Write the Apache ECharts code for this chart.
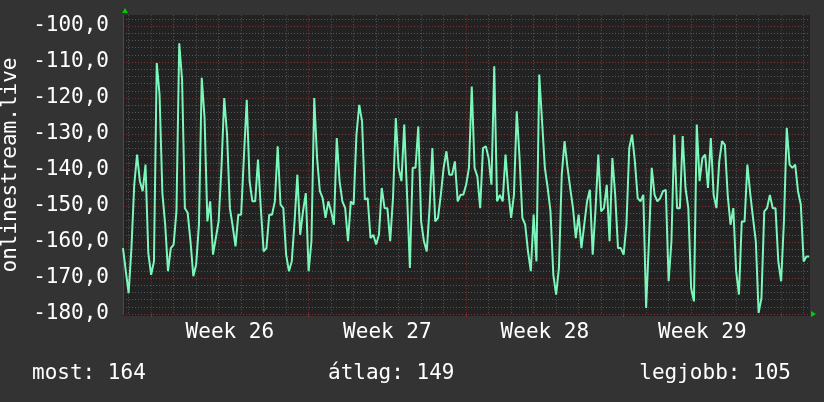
<!DOCTYPE html>
<html>
<head>
<meta charset="utf-8">
<script src="https://cdn.jsdelivr.net/npm/echarts@6/dist/echarts.min.js"></script>
<style>
  html, body { margin: 0; padding: 0; background: #333333; }
  #chart { width: 824px; height: 402px; }
</style>
</head>
<body>
<div id="chart"></div>
<script>
// one sample every 3 hours, first one 30 h before Monday of week 26
const startHour = -30;
const stepHours = 3;
const firstWeek = 26;
const weekLabels = ['Week 26', 'Week 27', 'Week 28', 'Week 29'];

const signal = [
  -161.7, -168.1, -174.2, -161.7, -144.1, -135.7, -143.1, -145.9, -138.5, -163.1,
  -169.1, -165.4, -110.3, -119.1, -146.4, -155.2, -168.1, -161.7, -160.7, -151.5,
  -104.8, -114.9, -150.6, -151.9, -159.8, -169.5, -166.3, -155.2, -114.4, -125.6,
  -154.3, -148.7, -163.5, -158.9, -154.3, -139.4, -120.0, -130.2, -150.6, -155.6,
  -161.2, -152.4, -152.4, -136.2, -120.5, -143.1, -148.7, -148.7, -137.1, -150.6,
  -162.6, -161.7, -152.4, -152.4, -148.7, -133.4, -149.6, -150.6, -163.5, -168.1,
  -165.4, -154.3, -141.3, -158.0, -151.5, -146.4, -168.1, -159.8, -120.0, -136.7,
  -145.9, -147.8, -153.3, -148.7, -151.5, -155.2, -131.1, -143.1, -148.7, -150.6,
  -159.8, -148.7, -149.6, -130.2, -121.9, -126.5, -148.2, -147.8, -158.9, -158.0,
  -160.7, -158.0, -145.0, -150.6, -150.6, -159.8, -147.8, -125.6, -139.4, -143.1,
  -127.4, -146.9, -167.2, -139.4, -139.4, -127.9, -154.3, -159.8, -162.6, -150.6,
  -133.9, -154.3, -153.3, -146.9, -139.4, -134.8, -141.3, -141.3, -137.6, -148.7,
  -146.9, -146.9, -144.1, -139.4, -116.8, -139.4, -141.8, -150.6, -133.9, -133.4,
  -136.7, -144.1, -111.2, -148.7, -146.9, -148.7, -135.7, -145.9, -153.3, -146.9,
  -123.7, -136.7, -153.3, -155.2, -162.6, -168.1, -152.4, -165.4, -113.5, -126.5,
  -139.4, -145.0, -151.5, -169.1, -174.6, -167.2, -141.3, -132.0, -139.0, -145.0,
  -150.6, -158.9, -152.4, -161.7, -155.2, -148.7, -145.5, -163.5, -151.0, -135.7,
  -151.5, -150.6, -144.1, -159.8, -136.7, -146.9, -161.7, -161.7, -163.5, -155.2,
  -133.9, -130.2, -137.6, -147.8, -148.7, -146.9, -178.3, -159.8, -139.4, -146.9,
  -148.7, -147.8, -145.9, -145.5, -170.9, -159.8, -130.2, -150.6, -150.6, -130.6,
  -145.0, -150.6, -172.8, -176.5, -127.4, -143.1, -136.7, -135.7, -145.0, -131.1,
  -146.9, -150.6, -137.6, -132.0, -133.0, -146.9, -155.2, -150.6, -168.1, -174.6,
  -154.3, -154.3, -138.5, -146.4, -153.3, -159.8, -179.7, -175.6, -151.5, -150.6,
  -146.9, -150.6, -150.6, -165.4, -170.9, -154.3, -128.3, -138.5, -139.4, -138.5,
  -145.9, -149.6, -165.4, -164.0, -164.0
];

const summary = [
  { label: 'most', value: 164 },
  { label: 'átlag', value: 149 },
  { label: 'legjobb', value: 105 }
];

const hours = signal.map((v, i) => startHour + i * stepHours);

const font = 'DejaVu Sans Mono';
const gray = '#575757';
const red = '#7f3030';
const isWeek = (h) => h % 168 === 0;
const isDay = (h) => h % 24 === 0 && !isWeek(h);
const isMidWeek = (h) => (h - 84) % 168 === 0;

const chart = echarts.init(document.getElementById('chart'), null, { renderer: 'canvas' });

chart.setOption({
  backgroundColor: '#333333',
  animation: false,
  grid: {
    left: 123,
    right: 14.75,
    top: 15.2,
    bottom: 88
  },
  xAxis: [
    {
      type: 'category',
      data: hours,
      boundaryGap: false,
      position: 'bottom',
      axisLine: { show: false },
      axisTick: { show: false },
      axisLabel: {
        interval: (idx, val) => isMidWeek(Number(val)),
        formatter: (val) => weekLabels[Math.floor(Number(val) / 168)] || ('Week ' + (firstWeek + Math.floor(Number(val) / 168))),
        color: '#ffffff',
        fontFamily: font,
        fontSize: 21,
        lineHeight: 21,
        margin: 8
      },
      splitLine: {
        show: true,
        interval: (idx, val) => isDay(Number(val)),
        lineStyle: { color: gray, width: 1, type: [1, 2] }
      }
    },
    {
      type: 'category',
      data: hours,
      boundaryGap: false,
      position: 'bottom',
      axisLine: { show: false },
      axisLabel: { show: false },
      axisTick: {
        show: true,
        interval: (idx, val) => isWeek(Number(val)),
        length: 3,
        lineStyle: { color: red }
      },
      splitLine: {
        show: true,
        interval: (idx, val) => isWeek(Number(val)),
        lineStyle: { color: red, width: 1, type: [1, 2] }
      }
    }
  ],
  yAxis: [
    {
      type: 'value',
      min: -180,
      max: -97,
      interval: 2,
      axisLine: { show: true, lineStyle: { color: '#4a4a4a' } },
      axisTick: { show: false },
      axisLabel: { show: false },
      splitLine: {
        show: true,
        showMaxLine: false,
        lineStyle: { color: gray, width: 1, type: [1, 2] }
      }
    },
    {
      type: 'value',
      min: -180,
      max: -97,
      interval: 10,
      position: 'left',
      axisLine: { show: false },
      axisTick: { show: false },
      axisLabel: {
        color: '#ffffff',
        fontFamily: font,
        fontSize: 21,
        margin: 14,
        formatter: (v) => (v % 10 === 0 ? v.toFixed(1).replace('.', ',') : '')
      },
      splitLine: {
        show: true,
        showMaxLine: false,
        lineStyle: { color: red, width: 1, type: [1, 2] }
      }
    }
  ],
  series: [
    {
      type: 'line',
      xAxisIndex: 0,
      yAxisIndex: 0,
      data: signal,
      showSymbol: false,
      lineStyle: { color: '#7cf7bb', width: 2 },
      z: 5
    }
  ],
  graphic: [
    {
      type: 'rect',
      z: -10,
      silent: true,
      shape: { x: 123, y: 15, width: 687, height: 301 },
      style: { fill: '#222222' }
    },
    {
      type: 'polygon',
      shape: { points: [[122, 13], [128, 13], [125, 8]] },
      style: { fill: '#00cc00' }
    },
    {
      type: 'polygon',
      shape: { points: [[811, 311], [811, 317], [816, 314]] },
      style: { fill: '#00cc00' }
    },
    {
      type: 'text',
      x: 11,
      y: 165,
      rotation: Math.PI / 2,
      style: {
        text: 'onlinestream.live',
        fill: '#ffffff',
        font: '21px "DejaVu Sans Mono"',
        textAlign: 'center',
        textVerticalAlign: 'middle'
      }
    },
    {
      type: 'text',
      x: 32,
      y: 374,
      style: {
        text: summary[0].label + ': ' + summary[0].value,
        fill: '#ffffff',
        font: '21px "DejaVu Sans Mono"',
        textAlign: 'left',
        textVerticalAlign: 'middle'
      }
    },
    {
      type: 'text',
      x: 328,
      y: 374,
      style: {
        text: summary[1].label + ': ' + summary[1].value,
        fill: '#ffffff',
        font: '21px "DejaVu Sans Mono"',
        textAlign: 'left',
        textVerticalAlign: 'middle'
      }
    },
    {
      type: 'text',
      x: 791,
      y: 374,
      style: {
        text: summary[2].label + ': ' + summary[2].value,
        fill: '#ffffff',
        font: '21px "DejaVu Sans Mono"',
        textAlign: 'right',
        textVerticalAlign: 'middle'
      }
    }
  ]
});
</script>
</body>
</html>
